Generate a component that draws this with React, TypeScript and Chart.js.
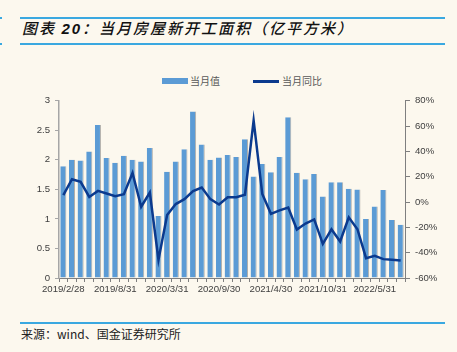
import React, { useEffect, useRef } from "react";
import { Chart, registerables } from "chart.js";

Chart.register(...registerables);

const categories = [
  "2019/2/28", "2019/3/31", "2019/4/30", "2019/5/31", "2019/6/30", "2019/7/31", "2019/8/31",
  "2019/9/30", "2019/10/31", "2019/11/30", "2019/12/31",
  "2020/2/29", "2020/3/31", "2020/4/30", "2020/5/31", "2020/6/30", "2020/7/31", "2020/8/31",
  "2020/9/30", "2020/10/31", "2020/11/30", "2020/12/31",
  "2021/2/28", "2021/3/31", "2021/4/30", "2021/5/31", "2021/6/30", "2021/7/31", "2021/8/31",
  "2021/9/30", "2021/10/31", "2021/11/30", "2021/12/31",
  "2022/2/28", "2022/3/31", "2022/4/30", "2022/5/31", "2022/6/30", "2022/7/31", "2022/8/31",
];

// 当月值 (亿平方米)
const monthlyValue = [
  1.89, 2.0, 1.99, 2.14, 2.59, 2.03, 1.95, 2.07, 2.0, 1.97, 2.2,
  1.05, 1.8, 1.97, 2.18, 2.82, 2.26, 2.0, 2.04, 2.08, 2.05, 2.35,
  1.72, 1.93, 1.79, 2.05, 2.72, 1.78, 1.67, 1.76, 1.38, 1.62, 1.62,
  1.51, 1.5, 1.0, 1.21, 1.49, 0.98, 0.9,
];

// 当月同比 (%)
const yoyPct = [
  5.4, 18, 16, 4, 8.8, 6.7, 4.6, 6.2, 23, -3.7, 7.5,
  -45.6, -10.3, -1.6, 2.3, 8.6, 11.5, 2.3, -1.9, 3.8, 3.8, 5.8,
  64.5, 6.4, -9.3, -6.6, -4.3, -21.7, -17, -13.7, -33, -21.5, -31.2,
  -12.1, -21.5, -44.3, -42.5, -45.1, -45.6, -46.2,
];

const shownLabels = [
  "2019/2/28", "2019/8/31", "2020/3/31", "2020/9/30", "2021/4/30", "2021/10/31", "2022/5/31",
];

const seriesNames = ["当月值", "当月同比"];

const BG = "#FCF8EE";
const BAR_COLOR = "#5B9BD5";
const LINE_COLOR = "#0B3A8E";
const RULE_COLOR = "#3AA8E0";
const TICK_FONT = { family: "'Liberation Sans', Arial, sans-serif", size: 9.6 };

export default function App() {
  const ref = useRef<HTMLCanvasElement | null>(null);

  useEffect(() => {
    const canvas = ref.current;
    if (!canvas) return;
    const chart = new Chart(canvas, {
      data: {
        labels: categories,
        datasets: [
          {
            type: "line",
            label: seriesNames[1],
            data: yoyPct,
            yAxisID: "y1",
            borderColor: LINE_COLOR,
            backgroundColor: LINE_COLOR,
            borderWidth: 2.5,
            pointRadius: 0,
            pointHoverRadius: 0,
            tension: 0,
            order: 0,
          },
          {
            type: "bar",
            label: seriesNames[0],
            data: monthlyValue,
            yAxisID: "y",
            backgroundColor: BAR_COLOR,
            borderColor: "rgba(115,115,115,0.55)",
            borderWidth: { top: 0, left: 0, bottom: 0, right: 1 },
            borderSkipped: false,
            barPercentage: 0.7,
            categoryPercentage: 1,
            order: 1,
          },
        ],
      } as any,
      options: {
        responsive: false,
        animation: false,
        devicePixelRatio: 1,
        layout: { padding: { top: 10, left: 0, right: 0, bottom: 0 } },
        plugins: {
          legend: { display: false },
          tooltip: { enabled: false },
        },
        scales: {
          x: {
            type: "category",
            offset: true,
            grid: {
              display: true,
              drawOnChartArea: false,
              drawTicks: true,
              tickLength: 4,
              tickColor: "#7F7F7F",
              offset: true,
            },
            border: { display: true, color: "#7F7F7F", width: 1 },
            ticks: {
              autoSkip: false,
              maxRotation: 0,
              minRotation: 0,
              padding: 2,
              color: "#404040",
              font: TICK_FONT,
              callback: (_v: any, i: number) =>
                shownLabels.includes(categories[i]) ? categories[i] : "",
            },
            afterFit: (s: any) => {
              s.height = 22;
            },
          },
          y: {
            type: "linear",
            position: "left",
            min: 0,
            max: 3,
            grid: {
              display: true,
              drawOnChartArea: false,
              tickLength: 4,
              tickColor: "#A6A6A6",
            },
            border: { display: true, color: "#A6A6A6", width: 1.5 },
            ticks: {
              stepSize: 0.5,
              padding: 5,
              color: "#404040",
              font: TICK_FONT,
              callback: (v: any) => String(v),
            },
            afterFit: (s: any) => {
              s.width = 59;
            },
          },
          y1: {
            type: "linear",
            position: "right",
            min: -60,
            max: 80,
            grid: {
              display: true,
              drawOnChartArea: false,
              tickLength: 5,
              tickColor: "#7F7F7F",
            },
            border: { display: true, color: "#7F7F7F", width: 1 },
            ticks: {
              stepSize: 20,
              padding: 5,
              color: "#404040",
              font: TICK_FONT,
              callback: (v: any) => `${v}%`,
            },
            afterFit: (s: any) => {
              s.width = 52;
            },
          },
        },
      } as any,
    });
    return () => chart.destroy();
  }, []);

  const cjk = "'Noto Sans CJK SC', sans-serif";

  return (
    <div
      style={{
        position: "absolute",
        left: 0,
        top: 0,
        width: 457,
        height: 352,
        background: BG,
        overflow: "hidden",
      }}
    >
      {/* left edge marks */}
      <div style={{ position: "absolute", left: 0, top: 17, width: 2, height: 1.5, background: RULE_COLOR }} />
      <div style={{ position: "absolute", left: 0, top: 43, width: 2, height: 1.5, background: RULE_COLOR }} />
      {/* title rules */}
      <div style={{ position: "absolute", left: 20, top: 17, width: 425, height: 1.5, background: RULE_COLOR }} />
      <div style={{ position: "absolute", left: 20, top: 43, width: 425, height: 1.5, background: RULE_COLOR }} />
      <div
        style={{
          position: "absolute",
          left: 22,
          top: 18,
          height: 20,
          lineHeight: "20px",
          fontFamily: "'Noto Sans CJK SC', sans-serif",
          fontStyle: "italic",
          fontWeight: 500,
          fontSize: 15,
          letterSpacing: 2,
          color: "#111",
          whiteSpace: "nowrap",
        }}
      >
        图表{" "}
        <span style={{ fontFamily: "'Liberation Sans', Arial, sans-serif", fontWeight: 700 }}>20</span>
        ：当月房屋新开工面积（亿平方米）
      </div>

      {/* legend */}
      <div style={{ position: "absolute", left: 162, top: 78, width: 26, height: 6, background: BAR_COLOR }} />
      <div
        style={{
          position: "absolute",
          left: 190,
          top: 74,
          height: 14,
          lineHeight: "14px",
          fontFamily: cjk,
          fontSize: 10,
          color: "#595959",
          whiteSpace: "nowrap",
        }}
      >
        {seriesNames[0]}
      </div>
      <div style={{ position: "absolute", left: 253, top: 80, width: 26, height: 2.5, background: LINE_COLOR }} />
      <div
        style={{
          position: "absolute",
          left: 282,
          top: 74,
          height: 14,
          lineHeight: "14px",
          fontFamily: cjk,
          fontSize: 10,
          color: "#595959",
          whiteSpace: "nowrap",
        }}
      >
        {seriesNames[1]}
      </div>

      <canvas
        ref={ref}
        width={457}
        height={210}
        style={{ position: "absolute", left: 0, top: 90, width: 457, height: 210 }}
      />

      {/* footer */}
      <div style={{ position: "absolute", left: 20, top: 322, width: 425, height: 1.5, background: RULE_COLOR }} />
      <div
        style={{
          position: "absolute",
          left: 21,
          top: 325,
          height: 17,
          lineHeight: "17px",
          fontFamily: "'Noto Sans CJK SC', 'Liberation Sans', sans-serif",
          fontSize: 12,
          color: "#222",
          whiteSpace: "nowrap",
        }}
      >
        来源：wind、国金证券研究所
      </div>
    </div>
  );
}
